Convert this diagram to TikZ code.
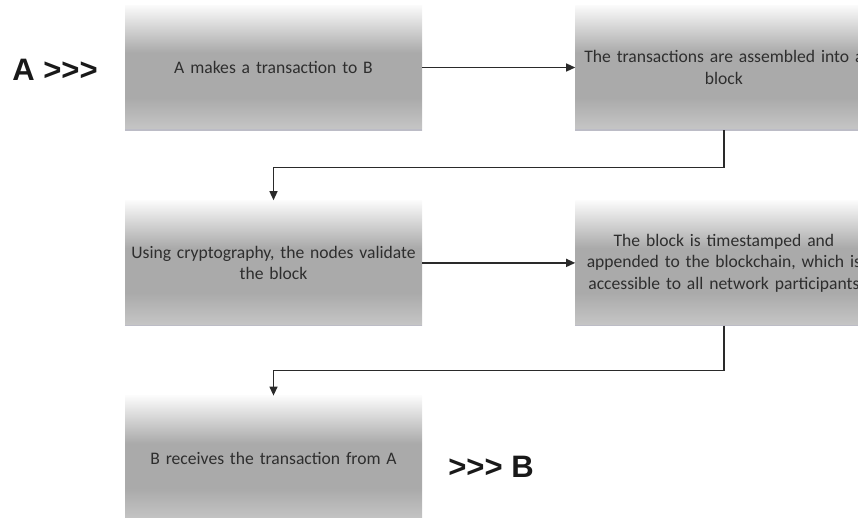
\documentclass[tikz,border=0pt]{standalone}
\usepackage{fontspec}
\setmainfont{Carlito}
\newfontfamily\tagfont{Liberation Sans}
\usetikzlibrary{arrows.meta, positioning}

\definecolor{boxtop}{HTML}{FBFBFB}
\definecolor{boxmid}{HTML}{AAAAAA}
\definecolor{boxbot}{HTML}{C6C6C6}
\definecolor{boxline}{HTML}{BCBCC6}
\definecolor{flowline}{HTML}{2A2A2A}

% grey box fill: white at the top, darkest in the middle, a bit lighter at the foot
\pgfdeclareverticalshading{stepfill}{100bp}{color(0bp)=(boxbot); color(25bp)=(boxbot);
  color(38bp)=(boxmid); color(56bp)=(boxmid); color(75bp)=(boxtop); color(100bp)=(boxtop)}

\begin{document}
\begin{tikzpicture}[x=1pt, y=-1pt,
    stepbox/.style={shade, shading=stepfill, minimum width=297pt, minimum height=125pt,
      text width=297pt, align=center, inner sep=0pt, text=black!82,
      font=\fontsize{17.6}{21.5}\selectfont},
    flow/.style={draw=flowline, line width=1.3pt, -{Triangle[length=9pt, width=8pt]}},
    tag/.style={font=\tagfont\bfseries\fontsize{31}{36}\selectfont, text=black!90}]
  \useasboundingbox (0,0) rectangle (858,517);

  % Steps
  \node[stepbox] (make) at (273.5,67.5) {A makes a transaction to B};
  \node[stepbox, right=153pt of make] (assemble) {The transactions are assembled into a\\ block};
  \node[stepbox, below=70pt of make] (validate) {Using cryptography, the nodes validate\\ the block};
  \node[stepbox, right=153pt of validate] (append) {The block is timestamped and\\
    appended to the blockchain, which is\\ accessible to all network participants};
  \node[stepbox, below=70pt of validate] (receive) {B receives the transaction from A};

  % thin rule along the foot of each box
  \foreach \n in {make, assemble, validate, append, receive}
    \draw[boxline, line width=1.5pt] (\n.south west) -- (\n.south east);

  % Flow
  \draw[flow] (make) -- (assemble);
  \draw[flow] (assemble.south) -- ++(0,37) -| (validate.north);
  \draw[flow] (validate) -- (append);
  \draw[flow] (append.south) -- ++(0,45) -| (receive.north);

  % Sender and receiver
  \node[tag] (sender) at (55,70) {A {>}{>}{>}};
  \node[tag] (receiver) at (491,467) {{>}{>}{>} B};
\end{tikzpicture}
\end{document}
